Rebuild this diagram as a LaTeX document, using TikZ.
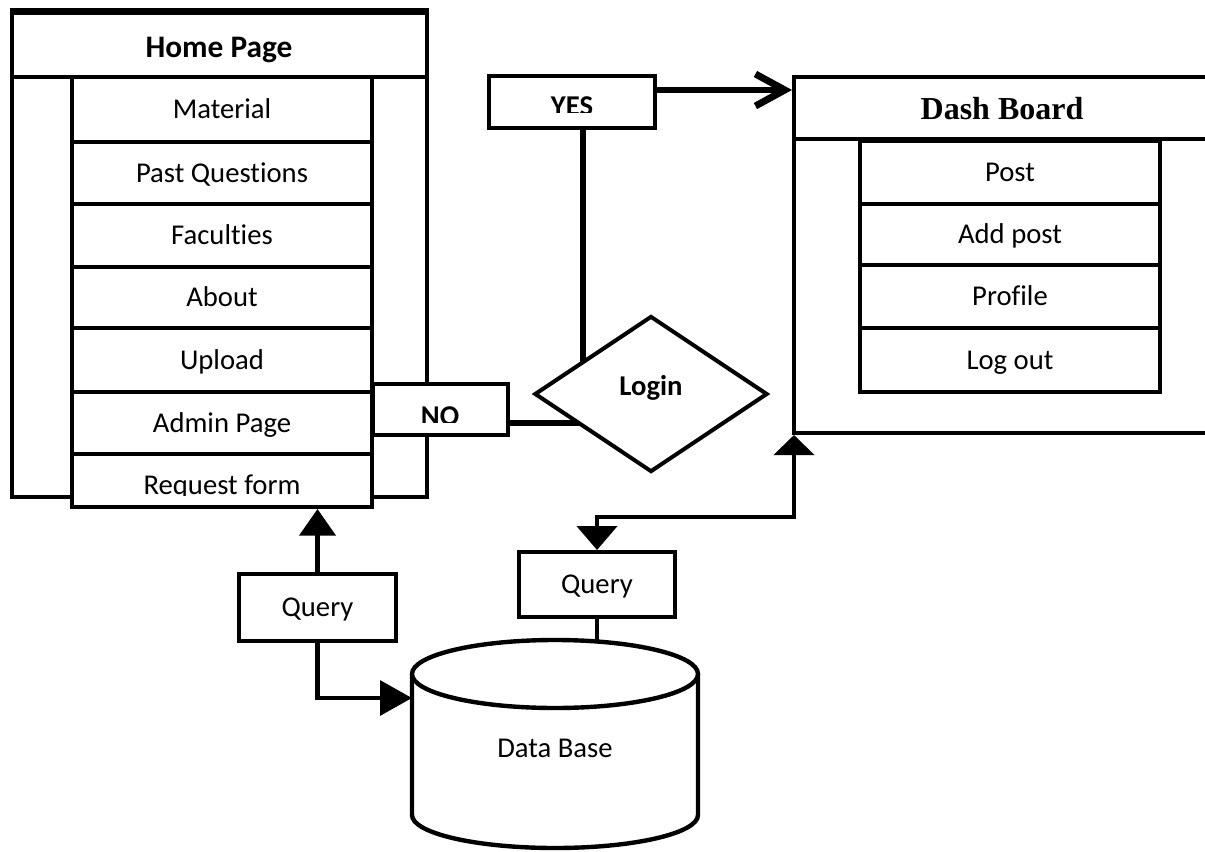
\documentclass[tikz,border=0pt]{standalone}
\usepackage{fontspec}
\setmainfont{Carlito}[Ligatures=NoCommon]
\newfontfamily\serifbold{Liberation Serif}
\usetikzlibrary{arrows.meta,shapes.geometric}
\def\u{0.75pt}

\begin{document}
\begin{tikzpicture}[x=0.75pt,y=-0.75pt,
  box/.style={draw, line width=3pt, fill=white, inner sep=0pt, rectangle},
  lbl/.style={inner sep=0pt, text height=13.6pt, text depth=0pt, font=\fontsize{21.5}{26}\selectfont},
  itm/.style={box, lbl, minimum width=300*\u},
  blbl/.style={lbl, font=\fontsize{21.5}{26}\selectfont\bfseries},
  edge/.style={line width=3.3pt},
  heavy/.style={line width=5.2pt},
]
\clip (0,0) rectangle (1205,852);
\fill[white] (0,0) rectangle (1205,852);

% ---------- Home page ----------
\node[box, minimum width=415*\u, minimum height=487*\u] (hp) at (219.5,253.5) {};
\node[box, minimum width=415*\u, minimum height=67*\u] (hph) at (219.5,43.5) {};
\draw[line width=2.2pt] ([yshift=-4pt]hph.north west) -- ([yshift=-4pt]hph.north east);
\node[blbl, font=\fontsize{23.5}{28}\selectfont\bfseries, text height=14.9pt] (hpt) at (219,48) {Home Page};

\node[itm, minimum height=65*\u] (mat) at (222,109.5) {Material};
\node[itm, minimum height=62*\u] (pq)  at (222,173)   {Past Questions};
\node[itm, minimum height=63*\u] (fac) at (222,235.5) {Faculties};
\node[itm, minimum height=61*\u] (abt) at (222,297.5) {About};
\node[itm, minimum height=64*\u] (upl) at (222,360)   {Upload};
\node[itm, minimum height=62*\u] (adm) at (222,423)   {Admin Page};
\node[itm, minimum height=53*\u] (rf)  at (222,480.5) {};
\begin{scope}
  \clip (72,454) rectangle (372,495);
  \node[lbl] (rft) at (222,485) {Request form};
\end{scope}

% ---------- Dash board ----------
\node[box, minimum width=446*\u, minimum height=356*\u] (dash) at (1017,255) {};
\node[box, minimum width=446*\u, minimum height=62*\u] (dashh) at (1017,108) {};
\node[inner sep=0pt, text height=15.9pt, text depth=0pt,
      font=\serifbold\bfseries\fontsize{24}{28}\selectfont] (dasht) at (1002,109) {Dash Board};

\node[itm, minimum height=63*\u] (post) at (1010,172.5) {Post};
\node[itm, minimum height=61*\u] (addp) at (1010,234.5) {Add post};
\node[itm, minimum height=63*\u] (prof) at (1010,296.5) {Profile};
\node[itm, minimum height=64*\u] (lout) at (1010,360)   {Log out};

% ---------- Decision ----------
\node[box, minimum width=166*\u, minimum height=52*\u] (yes) at (572,102) {};
\begin{scope}
  \clip (489,76) rectangle (655,113);
  \node[blbl] (yest) at (572,106) {YES};
\end{scope}
\node[box, minimum width=135*\u, minimum height=51*\u] (no) at (440.5,409.5) {};
\begin{scope}
  \clip (373,384) rectangle (508,422);
  \node[blbl] (not) at (440,416) {NO};
\end{scope}

\coordinate (lc) at (651,394);
\draw[heavy] ([xshift=8.25pt]yes.south) -- ([xshift=8.25pt]yes.south |- lc);
\draw[heavy, -{Straight Barb[length=22pt,width=24pt]}] ([yshift=9pt]yes.east) -- ([yshift=9pt]yes.east -| dash.west);
\draw[heavy] ([yshift=-10.1pt]no.east) -- ([yshift=-10.1pt]no.east -| lc);

\node[draw, diamond, line width=3pt, fill=white, inner sep=0pt,
      minimum width=233*\u, minimum height=156*\u] (login) at (lc) {};
\node[blbl] (logint) at (651,386) {Login};

% ---------- Queries and database ----------
\node[box, lbl, minimum width=157*\u, minimum height=67*\u] (ql) at (317.5,607.5) {Query};
\node[box, lbl, minimum width=156*\u, minimum height=65*\u] (qr) at (597,584.5) {Query};

\draw[edge, fill=white] (412,674) -- (412,815) arc[start angle=180, end angle=0, x radius=143, y radius=33] -- (698,674);
\draw[edge, fill=white] (555,674) ellipse[x radius=143, y radius=34];
\node[lbl] (dbtext) at (555,748) {Data Base};
\coordinate (dbl) at (412,698);
\coordinate (dbt) at (597,641);

\draw[edge, -{Triangle[length=20pt,width=27pt]}] (ql.north) -- (ql.north |- rf.south);
\draw[edge, -{Triangle[length=24pt,width=26pt]}] (ql.south) |- (dbl);
\draw[edge] (qr.south) -- (dbt);
\coordinate (bend) at (794,517);
\draw[edge, {Triangle[length=18pt,width=30pt]}-{Triangle[length=15pt,width=30pt]}]
  (qr.north) |- (bend) -- (bend |- dash.south);
\end{tikzpicture}
\end{document}
